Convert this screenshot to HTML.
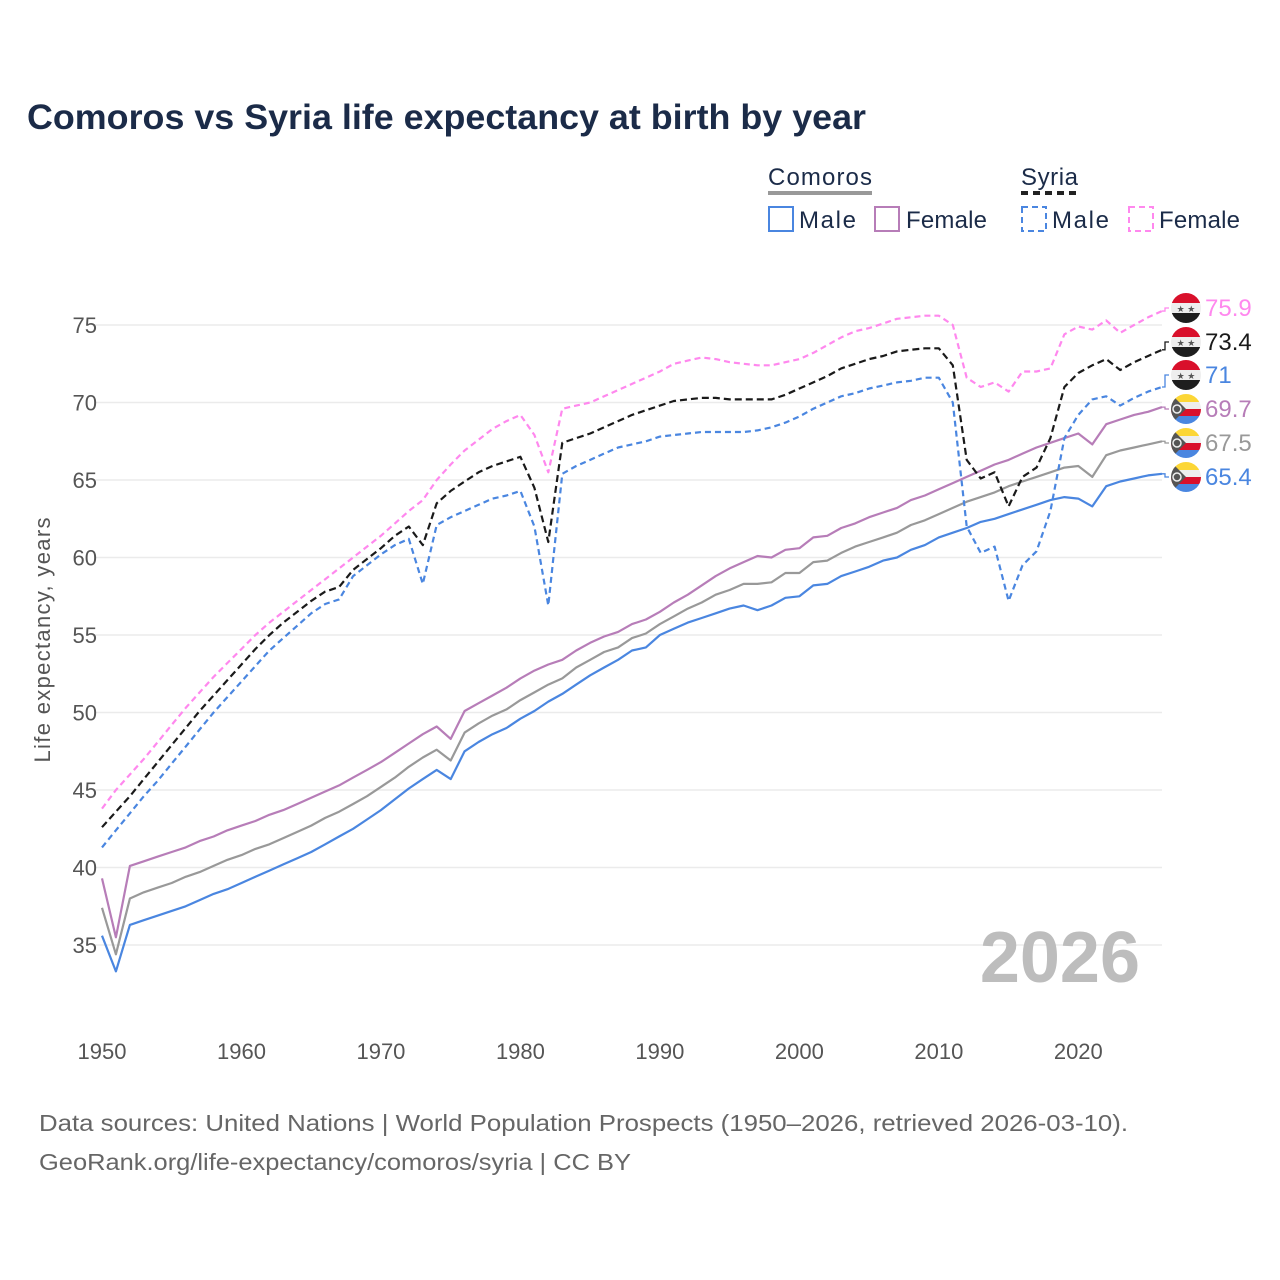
<!DOCTYPE html>
<html><head><meta charset="utf-8"><style>
html,body{margin:0;padding:0;background:#fff;width:1280px;height:1280px;overflow:hidden;font-family:"Liberation Sans",sans-serif}
</style></head><body>
<svg id="chart" width="1280" height="1280" xmlns="http://www.w3.org/2000/svg" font-family="Liberation Sans, sans-serif">
<text x="27" y="129" font-size="35" font-weight="bold" fill="#1b2b48" textLength="839" lengthAdjust="spacingAndGlyphs">Comoros vs Syria life expectancy at birth by year</text>
<g fill="#1b2b48" font-size="24">
<text x="768" y="185" textLength="104">Comoros</text>
<line x1="768" y1="193" x2="872" y2="193" stroke="#999" stroke-width="4"/>
<text x="1021" y="185" textLength="57">Syria</text>
<line x1="1021" y1="193" x2="1078" y2="193" stroke="#222" stroke-width="4" stroke-dasharray="7,5"/>
<g><rect x="769" y="207" width="24" height="24" fill="none" stroke="#4a86e0" stroke-width="2"/><text x="799" y="228" textLength="57">Male</text></g>
<g><rect x="875" y="207" width="24" height="24" fill="none" stroke="#b77db8" stroke-width="2"/><text x="906" y="228" textLength="81">Female</text></g>
<g><rect x="1022" y="207" width="24" height="24" fill="none" stroke="#4a86e0" stroke-width="2" stroke-dasharray="6,4"/><text x="1052" y="228" textLength="57">Male</text></g>
<g><rect x="1129" y="207" width="24" height="24" fill="none" stroke="#ff88ee" stroke-width="2" stroke-dasharray="6,4"/><text x="1159" y="228" textLength="81">Female</text></g>
</g>
<g id="grid"></g>
<g id="series"></g>
<g id="labels"></g>
<text transform="translate(50,640) rotate(-90)" text-anchor="middle" font-size="22" fill="#555" textLength="245">Life expectancy, years</text>
<text x="1140" y="982" text-anchor="end" font-size="72" font-weight="bold" fill="#bdbdbd">2026</text>
<text x="39" y="1131" font-size="23" fill="#666" textLength="1089" lengthAdjust="spacingAndGlyphs">Data sources: United Nations | World Population Prospects (1950–2026, retrieved 2026-03-10).</text>
<text x="39" y="1170" font-size="23" fill="#666" textLength="592" lengthAdjust="spacingAndGlyphs">GeoRank.org/life-expectancy/comoros/syria | CC BY</text>
</svg>
<script>
const startYear = 1950;
const yTicks = [35,40,45,50,55,60,65,70,75];
const xTicks = [1950,1960,1970,1980,1990,2000,2010,2020];
const syriaFemale = [43.8,45.0,46.0,47.0,48.1,49.2,50.3,51.3,52.3,53.2,54.1,55.0,55.8,56.5,57.2,57.9,58.6,59.3,60.0,60.7,61.4,62.2,63.0,63.7,65.0,66.0,66.9,67.6,68.3,68.8,69.2,67.9,65.5,69.6,69.8,70.0,70.4,70.8,71.2,71.6,72.0,72.5,72.7,72.9,72.8,72.6,72.5,72.4,72.4,72.6,72.8,73.2,73.7,74.2,74.6,74.8,75.1,75.4,75.5,75.6,75.6,75.0,71.6,71.0,71.3,70.7,72.0,72.0,72.2,74.4,74.9,74.7,75.3,74.5,75.0,75.5,75.9];
const syriaTotal = [42.6,43.6,44.6,45.7,46.8,47.9,49.0,50.1,51.1,52.1,53.1,54.1,55.0,55.8,56.5,57.2,57.8,58.1,59.2,59.9,60.6,61.4,62.0,60.8,63.5,64.3,64.9,65.5,65.9,66.2,66.5,64.5,61.0,67.4,67.7,68.0,68.4,68.8,69.2,69.5,69.8,70.1,70.2,70.3,70.3,70.2,70.2,70.2,70.2,70.5,70.9,71.3,71.7,72.2,72.5,72.8,73.0,73.3,73.4,73.5,73.5,72.4,66.3,65.1,65.5,63.3,65.2,65.8,67.7,71.0,71.9,72.4,72.8,72.1,72.6,73.0,73.4];
const syriaMale = [41.3,42.4,43.5,44.6,45.6,46.7,47.8,48.9,50.0,51.0,52.0,53.0,54.0,54.8,55.6,56.4,57.0,57.3,58.8,59.5,60.2,60.8,61.2,58.3,62.1,62.6,63.0,63.4,63.8,64.0,64.3,62.0,56.9,65.4,65.9,66.3,66.7,67.1,67.3,67.5,67.8,67.9,68.0,68.1,68.1,68.1,68.1,68.2,68.4,68.7,69.1,69.6,70.0,70.4,70.6,70.9,71.1,71.3,71.4,71.6,71.6,70.0,62.0,60.3,60.7,57.2,59.5,60.4,63.0,67.7,69.2,70.2,70.4,69.8,70.3,70.7,71.0];
const comorosFemale = [39.3,35.5,40.1,40.4,40.7,41.0,41.3,41.7,42.0,42.4,42.7,43.0,43.4,43.7,44.1,44.5,44.9,45.3,45.8,46.3,46.8,47.4,48.0,48.6,49.1,48.3,50.1,50.6,51.1,51.6,52.2,52.7,53.1,53.4,54.0,54.5,54.9,55.2,55.7,56.0,56.5,57.1,57.6,58.2,58.8,59.3,59.7,60.1,60.0,60.5,60.6,61.3,61.4,61.9,62.2,62.6,62.9,63.2,63.7,64.0,64.4,64.8,65.2,65.6,66.0,66.3,66.7,67.1,67.4,67.7,68.0,67.3,68.6,68.9,69.2,69.4,69.7];
const comorosTotal = [37.4,34.4,38.0,38.4,38.7,39.0,39.4,39.7,40.1,40.5,40.8,41.2,41.5,41.9,42.3,42.7,43.2,43.6,44.1,44.6,45.2,45.8,46.5,47.1,47.6,46.9,48.7,49.3,49.8,50.2,50.8,51.3,51.8,52.2,52.9,53.4,53.9,54.2,54.8,55.1,55.7,56.2,56.7,57.1,57.6,57.9,58.3,58.3,58.4,59.0,59.0,59.7,59.8,60.3,60.7,61.0,61.3,61.6,62.1,62.4,62.8,63.2,63.6,63.9,64.2,64.6,64.9,65.2,65.5,65.8,65.9,65.2,66.6,66.9,67.1,67.3,67.5];
const comorosMale = [35.6,33.3,36.3,36.6,36.9,37.2,37.5,37.9,38.3,38.6,39.0,39.4,39.8,40.2,40.6,41.0,41.5,42.0,42.5,43.1,43.7,44.4,45.1,45.7,46.3,45.7,47.5,48.1,48.6,49.0,49.6,50.1,50.7,51.2,51.8,52.4,52.9,53.4,54.0,54.2,55.0,55.4,55.8,56.1,56.4,56.7,56.9,56.6,56.9,57.4,57.5,58.2,58.3,58.8,59.1,59.4,59.8,60.0,60.5,60.8,61.3,61.6,61.9,62.3,62.5,62.8,63.1,63.4,63.7,63.9,63.8,63.3,64.6,64.9,65.1,65.3,65.4];
const endLabels = ["75.9","73.4","71","69.7","67.5","65.4"];

const NS="http://www.w3.org/2000/svg";
const xS = y => 102 + (y-1950)*(1162-102)/76;
const yS = v => 325 + (75-v)*15.5;
function mk(tag, attrs, parent){const e=document.createElementNS(NS,tag);for(const k in attrs)e.setAttribute(k,attrs[k]);parent.appendChild(e);return e;}
const grid=document.getElementById('grid');
yTicks.forEach(t=>{
  const l=mk('line',{x1:95,x2:1162,y1:yS(t),y2:yS(t),stroke:'#ebebeb','stroke-width':1.5},grid);
  
  
  const tx=mk('text',{x:97,y:yS(t)+8,'text-anchor':'end','font-size':22,fill:'#555'},grid);
  tx.textContent=t;
  
  
});
xTicks.forEach(t=>{
  const tx=mk('text',{x:xS(t),y:1059,'text-anchor':'middle','font-size':22,fill:'#555'},grid);
  tx.textContent=t;
  
  
});
const series=[
 {d:comorosMale,c:'#4a86e0',dash:'',name:'comoros-male-line',ly:477,flag:'km'},
 {d:comorosTotal,c:'#999999',dash:'',name:'comoros-total-line',ly:443,flag:'km'},
 {d:comorosFemale,c:'#b77db8',dash:'',name:'comoros-female-line',ly:409,flag:'km'},
 {d:syriaMale,c:'#4a86e0',dash:'6,4',name:'syria-male-line',ly:375,flag:'sy'},
 {d:syriaTotal,c:'#1a1a1a',dash:'7,4',name:'syria-total-line',ly:342,flag:'sy'},
 {d:syriaFemale,c:'#ff88ee',dash:'6,4',name:'syria-female-line',ly:308,flag:'sy'}
];
const sg=document.getElementById('series'), lg=document.getElementById('labels');
const labelTexts={'syria-female-line':endLabels[0],'syria-total-line':endLabels[1],'syria-male-line':endLabels[2],'comoros-female-line':endLabels[3],'comoros-total-line':endLabels[4],'comoros-male-line':endLabels[5]};
series.forEach(s=>{
  const pts=s.d.map((v,i)=>xS(startYear+i).toFixed(1)+','+yS(v).toFixed(1)).join(' ');
  const p=mk('polyline',{points:pts,fill:'none',stroke:s.c,'stroke-width':2.2,'stroke-dasharray':s.dash,'stroke-linejoin':'round'},sg);
  
  
  const ex=xS(startYear+s.d.length-1), ey=yS(s.d[s.d.length-1]);
  mk('polyline',{points:`${ex},${ey} ${ex+3},${ey} ${ex+3},${s.ly} ${ex+7},${s.ly}`,fill:'none',stroke:s.c,'stroke-width':1.3},lg);
  const cx=1186, cy=s.ly, r=15;
  const g=mk('g',{},lg);
  
  
  const cid='c'+s.name;
  const cp=mk('clipPath',{id:cid},g); mk('circle',{cx,cy,r},cp);
  const fg=mk('g',{'clip-path':`url(#${cid})`},g);
  if(s.flag==='sy'){
    mk('rect',{x:cx-r,y:cy-r,width:2*r,height:10,fill:'#d9102b'},fg);
    mk('rect',{x:cx-r,y:cy-5,width:2*r,height:10,fill:'#eee'},fg);
    mk('rect',{x:cx-r,y:cy+5,width:2*r,height:10,fill:'#1e1e1e'},fg);
    const st=mk('text',{x:cx,y:cy+4,'text-anchor':'middle','font-size':9,fill:'#555'},fg); st.textContent='★ ★';
  } else {
    mk('rect',{x:cx-r,y:cy-r,width:2*r,height:8,fill:'#fcd636'},fg);
    mk('rect',{x:cx-r,y:cy-7,width:2*r,height:7,fill:'#eee'},fg);
    mk('rect',{x:cx-r,y:cy,width:2*r,height:7,fill:'#d9102b'},fg);
    mk('rect',{x:cx-r,y:cy+7,width:2*r,height:8,fill:'#4a86e0'},fg);
    mk('polygon',{points:`${cx-r},${cy-r} ${cx},${cy} ${cx-r},${cy+r}`,fill:'#555'},fg);
    mk('circle',{cx:cx-9,cy:cy,r:4,fill:'none',stroke:'#eee','stroke-width':1.5},fg);
  }
  const t=mk('text',{x:1205,y:s.ly+8,'font-size':24,fill:s.c},lg);
  t.textContent=labelTexts[s.name];
  
  
});
</script>
</body></html>
